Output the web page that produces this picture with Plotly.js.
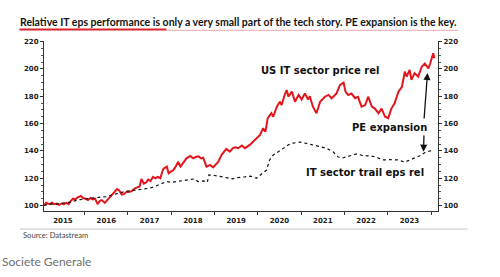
<!DOCTYPE html>
<html>
<head>
<meta charset="utf-8">
<script src="https://cdn.plot.ly/plotly-3.0.1.min.js"></script>
<style>
  html, body { margin: 0; padding: 0; background: #ffffff; }
  #chart { width: 500px; height: 277px; }
</style>
</head>
<body>
<div id="chart"></div>
<script>
// US IT sector price relative to the market (rebased to 100)
const priceDates = [
  '2015-01-25','2015-02-10','2015-02-25','2015-03-15','2015-04-01','2015-04-20','2015-05-10','2015-06-01',
  '2015-06-20','2015-07-10','2015-08-01','2015-08-20','2015-09-05','2015-09-25','2015-10-15','2015-11-05',
  '2015-12-01','2015-12-20','2016-01-10','2016-01-30','2016-02-20','2016-03-10','2016-03-30','2016-04-20',
  '2016-05-10','2016-05-25','2016-06-20','2016-07-10','2016-08-01','2016-08-20','2016-09-10','2016-10-01',
  '2016-10-20','2016-11-10','2016-12-01','2016-12-20','2017-01-10','2017-02-01','2017-02-20','2017-03-10',
  '2017-04-10','2017-04-25','2017-05-15','2017-06-05','2017-06-20','2017-07-10','2017-08-01','2017-08-20',
  '2017-09-10','2017-10-01','2017-10-15','2017-10-28','2017-11-25','2017-12-10','2018-01-01','2018-01-20',
  '2018-02-10','2018-03-01','2018-03-20','2018-04-10','2018-05-10','2018-06-10','2018-07-05','2018-07-25',
  '2018-08-20','2018-09-10','2018-09-28','2018-10-25','2018-11-25','2018-12-20','2019-01-10','2019-02-01',
  '2019-03-01','2019-04-10','2019-05-10','2019-06-05','2019-06-25','2019-07-20','2019-08-20','2019-09-15',
  '2019-10-25','2019-12-10','2020-01-20','2020-02-15','2020-03-05','2020-03-25','2020-04-25','2020-05-10',
  '2020-06-10','2020-07-05','2020-07-20','2020-08-15','2020-09-01','2020-09-15','2020-10-15','2020-11-10',
  '2020-12-10','2021-01-05','2021-02-01','2021-03-01','2021-03-15','2021-04-10','2021-05-10','2021-06-10',
  '2021-07-20','2021-08-20','2021-09-15','2021-10-25','2021-11-25','2021-12-25','2022-01-10','2022-02-01',
  '2022-03-01','2022-04-01','2022-04-25','2022-05-25','2022-06-25','2022-07-20','2022-08-20','2022-09-15',
  '2022-10-15','2022-11-10','2022-12-10','2023-01-05','2023-02-01','2023-03-01','2023-04-01','2023-05-01',
  '2023-05-25','2023-06-10','2023-07-05','2023-07-20','2023-08-15','2023-09-15','2023-10-15','2023-11-10',
  '2023-12-10','2023-12-25','2024-01-20','2024-01-30'
];
const priceRel = [
  100, 102, 101.5, 101, 102, 101, 101.5, 100.5,
  101.5, 101, 102, 101, 103, 105, 104.5, 106,
  107, 105.5, 105, 104, 105.5, 104.5, 105, 101,
  103.5, 104, 102, 104, 106.5, 108, 110, 112,
  111, 108, 108.5, 110, 110, 110.5, 112, 113,
  114, 119.5, 116, 117, 119, 118, 121, 120,
  121, 120, 124, 127, 128.5, 123.6, 125, 126,
  129, 132, 128.5, 131, 134.6, 136.3, 134.6, 135.5,
  136, 134.5, 135, 128.5, 129.7, 128, 130, 132,
  137, 141.5, 139.5, 142, 142.7, 142, 144, 142,
  144.4, 148, 151.7, 156.6, 154, 164, 167.6, 165,
  172.4, 176, 173.6, 181, 184.6, 179.8, 183.4, 176,
  181, 177.6, 182, 177.6, 180, 172.4, 167.6, 176,
  179.7, 181, 178.5, 182, 188.3, 190, 183.4, 181,
  182, 178.6, 179.6, 172.4, 173.6, 179.7, 172.4, 171,
  167.6, 171, 165, 164, 171, 175, 183.4, 187,
  198, 194.4, 199.3, 192, 197, 194.4, 201.7, 204,
  200.5, 204, 211.5, 207.8
];

// IT sector trailing EPS relative to the market (rebased to 100)
const epsDates = [
  '2015-01-25','2015-03-01','2015-05-01','2015-07-01','2015-09-01','2015-11-01','2016-01-01','2016-03-01',
  '2016-05-01','2016-07-01','2016-09-01','2016-10-25','2016-12-15','2017-02-15','2017-04-15','2017-06-15',
  '2017-08-01','2017-09-15','2017-10-25','2017-11-25','2018-01-01','2018-02-15','2018-04-15','2018-06-01',
  '2018-07-15','2018-08-15','2018-10-01','2018-11-01','2018-11-15','2019-01-01','2019-02-15','2019-04-10',
  '2019-06-01','2019-07-15','2019-09-15','2019-11-01','2019-12-20','2020-02-15','2020-03-15','2020-04-10',
  '2020-05-10','2020-06-25','2020-08-01','2020-09-15','2020-10-25','2020-12-20','2021-02-15','2021-04-10',
  '2021-06-10','2021-08-01','2021-09-25','2021-11-10','2021-12-15','2022-02-15','2022-04-15','2022-06-15',
  '2022-08-15','2022-10-01','2022-11-20','2023-01-20','2023-03-25','2023-05-25','2023-08-01','2023-09-25',
  '2023-11-15','2024-01-20'
];
const epsRel = [
  100, 101, 101, 101.5, 102.5, 104, 105, 105.5,
  106, 106.5, 108, 109.5, 110.5, 111, 111.5, 112.5,
  113.5, 115, 116, 117.6, 117, 117.6, 118.5, 119.3,
  119.5, 117.6, 118, 117, 122.4, 122, 121.5, 120.5,
  119.5, 120.5, 121, 121.5, 120, 123.6, 126, 133.4,
  137, 139.5, 142, 144.5, 145.7, 146.5, 145.5, 144.5,
  143.3, 142, 139.5, 135.5, 134.8, 136.5, 137.8, 136.3,
  136.3, 135.3, 133.4, 133.6, 133.4, 131.8, 134, 136.3,
  139, 140.6
];

const chartTitle = 'Relative IT eps performance is only a very small part of the tech story. PE expansion is the key.';
const priceLabel = 'US IT sector price rel';
const epsLabel = 'IT sector trail eps rel';
const gapLabel = 'PE expansion';
const sourceNote = 'Source: Datastream';
const creditLine = 'Societe Generale';

const RED = '#e3161d';
const INK = '#222222';
const tickFont = { family: 'DejaVu Sans, sans-serif', size: 7, color: INK, weight: 'bold' };
const noteFont = { family: 'DejaVu Sans, sans-serif', size: 10, color: '#111111', weight: 'bold' };

const valueAxis = {
  range: [96, 220.5],
  tick0: 100,
  dtick: 20,
  ticks: 'outside',
  ticklen: 3,
  tickwidth: 1,
  tickcolor: '#333333',
  showline: true,
  linecolor: '#333333',
  linewidth: 1,
  showgrid: false,
  zeroline: false,
  tickfont: tickFont,
  minor: { dtick: 5, ticks: 'outside', ticklen: 2, tickcolor: '#555555', showgrid: false },
  fixedrange: true
};

const traces = [
  {
    x: priceDates, y: priceRel, type: 'scatter', mode: 'lines',
    line: { color: RED, width: 2 }, hoverinfo: 'skip'
  },
  {
    x: epsDates, y: epsRel, type: 'scatter', mode: 'lines', yaxis: 'y2',
    line: { color: '#111111', width: 1.2, dash: 'dot' }, hoverinfo: 'skip'
  }
];

const layout = {
  width: 500,
  height: 277,
  margin: { l: 44, r: 62, t: 41, b: 65.8, pad: 0 },
  paper_bgcolor: '#ffffff',
  plot_bgcolor: '#ffffff',
  showlegend: false,
  title: {
    text: chartTitle,
    x: 0.04, xanchor: 'left', xref: 'container',
    y: 1 - 22 / 277, yanchor: 'middle', yref: 'container',
    font: { family: 'Lato, sans-serif', size: 10.5, color: '#141414', weight: 'bold' }
  },
  xaxis: {
    type: 'date',
    range: ['2015-01-24', '2024-02-29'],
    dtick: 'M12',
    tick0: '2015-01-01',
    tickformat: '%Y',
    ticklabelmode: 'period',
    ticks: 'outside',
    ticklen: 3,
    tickcolor: '#333333',
    showline: true,
    linecolor: '#333333',
    linewidth: 1,
    showgrid: false,
    zeroline: false,
    tickfont: tickFont,
    fixedrange: true
  },
  yaxis: Object.assign({}, valueAxis, { side: 'left' }),
  yaxis2: Object.assign({}, valueAxis, { side: 'right', overlaying: 'y' }),
  shapes: [
    // title underline: red accent, then pale rule
    { type: 'line', xref: 'paper', yref: 'paper', x0: (19.5 - 44) / 394, x1: (166.5 - 44) / 394,
      y0: (211.2 - 29.4) / 170.2, y1: (211.2 - 29.4) / 170.2, line: { color: '#d9242c', width: 2 } },
    { type: 'line', xref: 'paper', yref: 'paper', x0: (166.5 - 44) / 394, x1: (458 - 44) / 394,
      y0: (211.2 - 30.3) / 170.2, y1: (211.2 - 30.3) / 170.2, line: { color: '#eaaab0', width: 1 } },
    // footer rule
    { type: 'line', xref: 'paper', yref: 'paper', x0: (20 - 44) / 394, x1: (467.5 - 44) / 394,
      y0: (211.2 - 229.3) / 170.2, y1: (211.2 - 229.3) / 170.2, line: { color: '#c4c4c4', width: 1 } }
  ],
  annotations: [
    { text: priceLabel, xref: 'paper', yref: 'paper', x: (319.5 - 44) / 394, y: (211.2 - 71) / 170.2,
      xanchor: 'center', yanchor: 'middle', showarrow: false, font: noteFont },
    { text: gapLabel, xref: 'paper', yref: 'paper', x: (389.5 - 44) / 394, y: (211.2 - 127.5) / 170.2,
      xanchor: 'center', yanchor: 'middle', showarrow: false, font: noteFont },
    { text: epsLabel, xref: 'paper', yref: 'paper', x: (365 - 44) / 394, y: (211.2 - 172.5) / 170.2,
      xanchor: 'center', yanchor: 'middle', showarrow: false, font: noteFont },
    // arrow up to the price line
    { text: '', xref: 'paper', yref: 'paper', x: (427.5 - 44) / 394, y: (211.2 - 73) / 170.2,
      showarrow: true, ax: -3.5, ay: 47, arrowhead: 2, arrowsize: 1.1, arrowwidth: 1.3, arrowcolor: '#111111', standoff: 0 },
    // arrow down to the eps line
    { text: '', xref: 'paper', yref: 'paper', x: (423.5 - 44) / 394, y: (211.2 - 152) / 170.2,
      showarrow: true, ax: 0.5, ay: -18, arrowhead: 2, arrowsize: 1.1, arrowwidth: 1.3, arrowcolor: '#111111', standoff: 0 },
    { text: sourceNote, xref: 'paper', yref: 'paper', x: (21 - 44) / 394, y: (211.2 - 235.5) / 170.2,
      xanchor: 'left', yanchor: 'middle', showarrow: false,
      font: { family: 'Lato, sans-serif', size: 7.6, color: '#444444' } },
    { text: creditLine, xref: 'paper', yref: 'paper', x: (0 - 44) / 394, y: (211.2 - 262) / 170.2,
      xanchor: 'left', yanchor: 'middle', showarrow: false,
      font: { family: 'Lato, sans-serif', size: 12, color: '#6e6e6e' } }
  ]
};

Plotly.newPlot('chart', traces, layout, { staticPlot: true, displayModeBar: false });
</script>
</body>
</html>
